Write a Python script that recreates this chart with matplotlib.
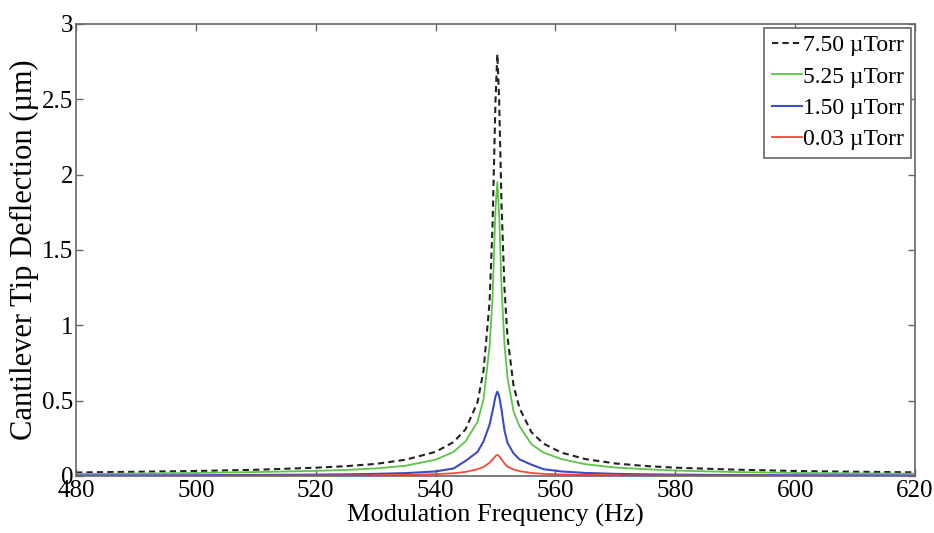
import matplotlib
matplotlib.use("Agg")
import matplotlib.pyplot as plt

# frequency grid (Hz) and tip deflection (um)
freq = [480, 490, 500, 510, 520, 525, 530, 535, 540, 543, 545, 547, 548, 549,
        549.5, 550, 550.3, 550.6, 551, 551.5, 552, 553, 554, 556, 558, 561,
        565, 570, 575, 580, 590, 600, 610, 620]

p750 = [0.023, 0.028, 0.033, 0.041, 0.055, 0.065, 0.080, 0.108, 0.160, 0.225,
        0.31, 0.49, 0.70, 1.15, 1.66, 2.50, 2.80, 2.50, 1.80, 1.24, 0.92, 0.60,
        0.45, 0.29, 0.215, 0.155, 0.112, 0.083, 0.066, 0.055, 0.042, 0.033,
        0.028, 0.024]

p525 = [0.013, 0.016, 0.020, 0.026, 0.034, 0.040, 0.050, 0.068, 0.108, 0.16,
        0.23, 0.36, 0.51, 0.86, 1.18, 1.78, 1.95, 1.74, 1.25, 0.87, 0.65, 0.43,
        0.33, 0.21, 0.155, 0.112, 0.078, 0.056, 0.045, 0.036, 0.026, 0.020,
        0.017, 0.015]

p150 = [0.003, 0.004, 0.005, 0.007, 0.009, 0.011, 0.014, 0.019, 0.030, 0.050,
        0.10, 0.16, 0.23, 0.34, 0.43, 0.53, 0.56, 0.53, 0.44, 0.30, 0.22, 0.15,
        0.11, 0.075, 0.045, 0.030, 0.020, 0.014, 0.011, 0.009, 0.006, 0.005,
        0.004, 0.003]

p003 = [0.001, 0.001, 0.002, 0.002, 0.003, 0.004, 0.005, 0.007, 0.012, 0.018,
        0.027, 0.045, 0.060, 0.088, 0.11, 0.132, 0.14, 0.132, 0.11, 0.083,
        0.062, 0.043, 0.032, 0.020, 0.014, 0.010, 0.007, 0.005, 0.004, 0.003,
        0.002, 0.002, 0.001, 0.001]

labels = ["7.50 \u00b5Torr", "5.25 \u00b5Torr", "1.50 \u00b5Torr", "0.03 \u00b5Torr"]

plt.rcParams['font.family'] = ['Liberation Serif', 'DejaVu Serif']

fig = plt.figure(figsize=(9.34, 5.33), dpi=100)
ax = fig.add_axes([0.0814, 0.107, 0.8983, 0.848])

ax.plot(freq, p750, color='#222222', lw=1.5, linestyle=(0, (3, 2)), label=labels[0])
ax.plot(freq, p525, color='#5cc447', lw=1.3, label=labels[1])
ax.plot(freq, p150, color='#3c4cc4', lw=1.5, label=labels[2])
ax.plot(freq, p003, color='#f04a3a', lw=1.3, label=labels[3])

ax.set_xlim(480, 620)
ax.set_ylim(0, 3)
ax.set_xticks(range(480, 621, 20))
ax.set_yticks([0, 0.5, 1, 1.5, 2, 2.5, 3])
ax.set_yticklabels(['0', '0.5', '1', '1.5', '2', '2.5', '3'])

for s in ax.spines.values():
    s.set_color('#666666')
    s.set_linewidth(1.2)
ax.tick_params(direction='in', length=5, width=1, color='#666666',
               top=True, right=True, labelsize=18)
ax.tick_params(axis='x', pad=3)
ax.tick_params(axis='y', pad=2)

ax.set_xlabel('Modulation Frequency (Hz)', fontsize=19, labelpad=1)
ax.set_ylabel('Cantilever Tip Deflection (\u00b5m)', fontsize=22, labelpad=2)

leg = ax.legend(loc='upper right', fontsize=17, handlelength=1.3,
                handletextpad=0.05, borderpad=0.3, labelspacing=0.42,
                fancybox=False, framealpha=1, borderaxespad=0.15)
leg.get_frame().set_edgecolor('#666666')
leg.get_frame().set_linewidth(1.2)

fig.savefig('out.png', dpi=100)
